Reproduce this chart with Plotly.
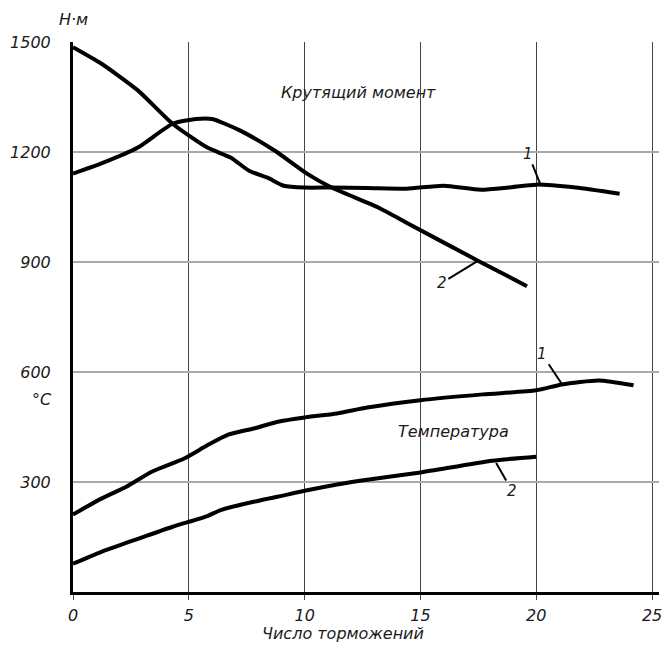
import plotly.graph_objects as go

# ---- data ----
torque1_x = [0, 1.2, 2.8, 4.3, 5.8, 6.8, 7.6, 8.4, 9.1, 10.0, 11.1, 12.7, 14.4, 16.0, 17.6, 18.8, 20.0, 21.7, 23.6]
torque1_y = [1486, 1442, 1368, 1277, 1212, 1185, 1149, 1130, 1108, 1103, 1103, 1102, 1100, 1108, 1097, 1103, 1111, 1103, 1086]

torque2_x = [0, 1.2, 2.8, 4.3, 5.3, 6.0, 7.2, 8.7, 10.1, 11.1, 13.2, 14.4, 17.5, 19.6]
torque2_y = [1141, 1168, 1212, 1277, 1290, 1290, 1259, 1204, 1141, 1105, 1048, 1007, 903, 834]

temp1_x = [0, 1.2, 2.3, 3.4, 4.8, 5.8, 6.7, 7.8, 8.9, 10.0, 11.4, 12.7, 15.0, 17.7, 20.0, 21.1, 22.7, 24.2]
temp1_y = [211, 254, 287, 328, 364, 400, 429, 446, 465, 476, 487, 503, 523, 539, 550, 566, 577, 564]

temp2_x = [0, 1.2, 2.8, 4.3, 5.8, 6.4, 7.8, 9.2, 10.0, 11.4, 12.7, 15.0, 18.1, 20.0]
temp2_y = [77, 109, 145, 178, 207, 224, 246, 265, 276, 293, 306, 326, 358, 369]

x_ticks = [0, 5, 10, 15, 20, 25]
y_ticks = [300, 600, 900, 1200, 1500]

x_title = "Число торможений"
y_unit_torque = "Н·м"
y_unit_temp = "°C"
label_torque = "Крутящий момент"
label_temp = "Температура"

FONT = "DejaVu Sans, Liberation Sans, Arial, sans-serif"
INK = "#1a1a1a"
FS = 16


def f(size=FS):
    return dict(family=FONT, size=size, color=INK, style="italic")


fig = go.Figure()
for xs, ys in [(torque1_x, torque1_y), (torque2_x, torque2_y), (temp1_x, temp1_y), (temp2_x, temp2_y)]:
    fig.add_trace(go.Scatter(
        x=xs, y=ys, mode="lines",
        line=dict(color="black", width=4, shape="spline", smoothing=0.6),
        showlegend=False, hoverinfo="skip",
    ))

annotations = []
# curve labels with leader lines
for (px, py, txt, ax, ay) in [
    (20.17, 1113, "1", -12, -30),
    (17.48, 903, "2", -36, 22),
    (21.12, 566, "1", -20, -30),
    (18.27, 352, "2", 16, 28),
]:
    annotations.append(dict(
        x=px, y=py, xref="x", yref="y", text=txt, showarrow=True,
        arrowhead=0, arrowwidth=2, arrowcolor="black", ax=ax, ay=ay,
        font=f(15),
    ))

annotations.append(dict(x=12.33, y=1362, xref="x", yref="y", text=label_torque,
                        showarrow=False, font=f()))
annotations.append(dict(x=16.42, y=437, xref="x", yref="y", text=label_temp,
                        showarrow=False, font=f()))
annotations.append(dict(x=0.0, y=1.04, xref="paper", yref="paper", text=y_unit_torque,
                        xanchor="center", yanchor="middle", showarrow=False, font=f()))
annotations.append(dict(x=-0.053, y=0.35, xref="paper", yref="paper", text=y_unit_temp,
                        xanchor="center", yanchor="middle", showarrow=False, font=f()))
annotations.append(dict(x=0.46, y=-0.075, xref="paper", yref="paper", text=x_title,
                        xanchor="center", yanchor="middle", showarrow=False, font=f()))

fig.update_layout(
    width=670, height=646,
    margin=dict(l=73, r=8, t=42, b=54),
    paper_bgcolor="white", plot_bgcolor="white",
    annotations=annotations,
    font=dict(family=FONT, color=INK),
)
fig.update_xaxes(
    range=[0, 25.3], tickvals=x_ticks, ticktext=[str(v) for v in x_ticks],
    showgrid=True, gridcolor="#444444", gridwidth=1,
    showline=True, linecolor="black", linewidth=3,
    ticks="outside", ticklen=5, tickcolor="#444444",
    tickfont=f(), ticklabelstandoff=2, zeroline=False,
)
fig.update_yaxes(
    range=[0, 1500], tickvals=y_ticks, ticktext=[str(v) for v in y_ticks],
    showgrid=True, gridcolor="#aaaaaa", gridwidth=1.5,
    showline=True, linecolor="black", linewidth=3,
    ticks="", tickfont=f(), ticklabelstandoff=16, zeroline=False,
)

fig.write_html("out.html", post_script="document.body.style.margin='0';",
               config={"displayModeBar": False})
